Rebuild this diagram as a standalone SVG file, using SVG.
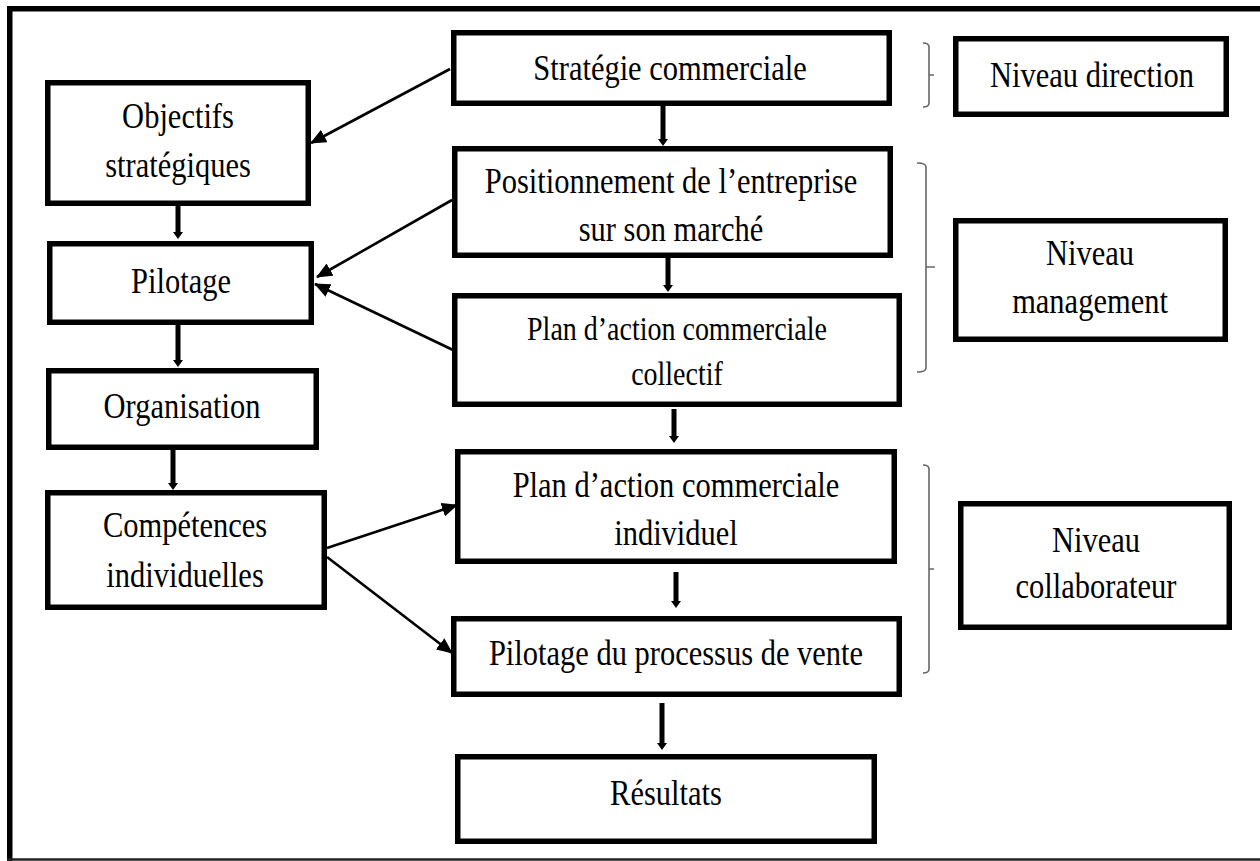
<svg xmlns="http://www.w3.org/2000/svg" width="1260" height="861" viewBox="0 0 1260 861">
<style>
.box{fill:#fff;stroke:#000;stroke-width:5.5}
.t{font-family:"Liberation Serif","Times New Roman",serif;font-size:30.5px;text-anchor:middle;fill:#000}
.s{font-size:28px}
.thin{stroke:#000;stroke-width:2.6;fill:none}
.thick{stroke:#000;stroke-width:5;fill:none}
.brace{stroke:#666;stroke-width:1.6;fill:none}
</style>
<defs>
<marker id="ah" markerUnits="userSpaceOnUse" markerWidth="18" markerHeight="14" refX="15" refY="7" orient="auto"><path d="M0,0 L16,7 L0,14 z" fill="#000"/></marker>
<marker id="aht" markerUnits="userSpaceOnUse" markerWidth="8" markerHeight="12" refX="0" refY="6" orient="auto"><path d="M0,1 L7,6 L0,11 z" fill="#000"/></marker>
</defs>
<rect width="1260" height="861" fill="#fff"/>
<g id="frame">
<path d="M1260,8.75 H9.75 V861" fill="none" stroke="#000" stroke-width="5.5"/>
<line x1="7" y1="859.5" x2="1260" y2="859.5" stroke="#222" stroke-width="2.5"/>
</g>
<g id="connectors">
<line class="thin" x1="450" y1="69" x2="311" y2="143" marker-end="url(#ah)"/>
<line class="thin" x1="452" y1="200" x2="317" y2="277" marker-end="url(#ah)"/>
<line class="thin" x1="453" y1="350" x2="315" y2="284" marker-end="url(#ah)"/>
<line class="thin" x1="327" y1="548" x2="457" y2="505" marker-end="url(#ah)"/>
<line class="thin" x1="327" y1="557" x2="452" y2="653" marker-end="url(#ah)"/>
<line class="thick" x1="663" y1="106" x2="663" y2="139" marker-end="url(#aht)"/>
<line class="thick" x1="668" y1="258" x2="668" y2="285" marker-end="url(#aht)"/>
<line class="thick" x1="674" y1="409" x2="674" y2="436" marker-end="url(#aht)"/>
<line class="thick" x1="676" y1="572" x2="676" y2="601" marker-end="url(#aht)"/>
<line class="thick" x1="662" y1="703" x2="662" y2="743" marker-end="url(#aht)"/>
<line class="thick" x1="178" y1="206" x2="178" y2="232" marker-end="url(#aht)"/>
<line class="thick" x1="178" y1="325" x2="178" y2="360" marker-end="url(#aht)"/>
<line class="thick" x1="173" y1="450" x2="173" y2="483" marker-end="url(#aht)"/>
</g>
<g id="braces">
<path class="brace" d="M923,43 Q929,43 929,47 V103 Q929,107 923,107 M929,75 H934"/>
<path class="brace" d="M917,163 Q926,163 926,167 V368 Q926,372 917,372 M926,267 H935"/>
<path class="brace" d="M923,465 Q929,465 929,469 V669 Q929,673 923,673 M929,569 H934"/>
</g>
<g id="strategie">
<rect class="box" x="453.75" y="32.75" width="435.5" height="70.5"/>
<text class="t" transform="translate(670,80) scale(1,1.2)">Stratégie commerciale</text>
</g>
<g id="positionnement">
<rect class="box" x="454.75" y="148.75" width="435.5" height="106.5"/>
<text class="t" transform="translate(671,193) scale(1,1.2)">Positionnement de l’entreprise</text>
<text class="t" transform="translate(671,241) scale(1,1.2)">sur son marché</text>
</g>
<g id="plan-collectif">
<rect class="box" x="454.75" y="295.75" width="444.5" height="108.5"/>
<text class="t s" transform="translate(677,340) scale(1,1.2)">Plan d’action commerciale</text>
<text class="t s" transform="translate(677,385) scale(1,1.2)">collectif</text>
</g>
<g id="plan-individuel">
<rect class="box" x="457.75" y="451.75" width="436.5" height="109.5"/>
<text class="t" transform="translate(676,497) scale(1,1.2)">Plan d’action commerciale</text>
<text class="t" transform="translate(676,545) scale(1,1.2)">individuel</text>
</g>
<g id="pilotage-processus">
<rect class="box" x="453.75" y="618.75" width="445.5" height="75.5"/>
<text class="t" transform="translate(676,665) scale(1,1.2)">Pilotage du processus de vente</text>
</g>
<g id="resultats">
<rect class="box" x="457.75" y="756.75" width="416.5" height="84.5"/>
<text class="t" transform="translate(666,805) scale(1,1.2)">Résultats</text>
</g>
<g id="objectifs">
<rect class="box" x="47.75" y="82.75" width="260.5" height="120.5"/>
<text class="t" transform="translate(178,128) scale(1,1.2)">Objectifs</text>
<text class="t" transform="translate(178,177) scale(1,1.2)">stratégiques</text>
</g>
<g id="pilotage">
<rect class="box" x="49.75" y="243.75" width="261.5" height="78.5"/>
<text class="t" transform="translate(181,293) scale(1,1.2)">Pilotage</text>
</g>
<g id="organisation">
<rect class="box" x="48.75" y="370.75" width="267.5" height="76.5"/>
<text class="t" transform="translate(182,418) scale(1,1.2)">Organisation</text>
</g>
<g id="competences">
<rect class="box" x="47.75" y="492.75" width="276.5" height="114.5"/>
<text class="t" transform="translate(185,537) scale(1,1.2)">Compétences</text>
<text class="t" transform="translate(185,587) scale(1,1.2)">individuelles</text>
</g>
<g id="niveau-direction">
<rect class="box" x="955.75" y="38.75" width="270.5" height="75.5"/>
<text class="t" transform="translate(1092,87) scale(1,1.2)">Niveau direction</text>
</g>
<g id="niveau-management">
<rect class="box" x="955.75" y="220.75" width="269.5" height="118.5"/>
<text class="t" transform="translate(1090,265) scale(1,1.2)">Niveau</text>
<text class="t" transform="translate(1090,313) scale(1,1.2)">management</text>
</g>
<g id="niveau-collaborateur">
<rect class="box" x="960.75" y="503.75" width="268.5" height="123.5"/>
<text class="t" transform="translate(1096,552) scale(1,1.2)">Niveau</text>
<text class="t" transform="translate(1096,598) scale(1,1.2)">collaborateur</text>
</g>
</svg>
